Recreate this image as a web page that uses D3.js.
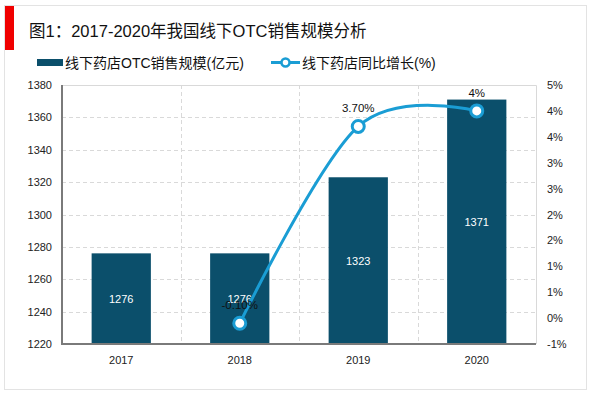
<!DOCTYPE html>
<html>
<head>
<meta charset="utf-8">
<script src="https://cdn.jsdelivr.net/npm/d3@7"></script>
<style>
    body { margin: 0; background: #fff; }
    svg text { font-family: "Liberation Sans", Arial, "Noto Sans CJK SC", sans-serif; }
</style>
</head>
<body>
<svg id="chart" width="600" height="393"></svg>
<script>
"use strict"

var years           = ['2017', '2018', '2019', '2020'];
var sales           = [1276, 1276, 1323, 1371];
var growthYears     = ['2018', '2019', '2020'];
var growth          = [-0.1, 3.7, 4.0];
var growthLabels    = ['-0.10%', '3.70%', '4%'];
var leftTicks       = [1220, 1240, 1260, 1280, 1300, 1320, 1340, 1360, 1380];
var rightTicks      = [-0.5, 0, 0.5, 1, 1.5, 2, 2.5, 3, 3.5, 4, 4.5];
var rightTickLabels = ['-1%', '0%', '1%', '1%', '2%', '2%', '3%', '3%', '4%', '4%', '5%'];

var titleText   = '图1：2017-2020年我国线下OTC销售规模分析';
var legendBar   = '线下药店OTC销售规模(亿元)';
var legendLine  = '线下药店同比增长(%)';

var barColor  = '#0b4f6b';
var lineColor = '#1a9dd4';
var gridColor = '#d9d9d9';

var svg = d3.select('#chart');

// frame + title
svg.append('rect')
    .attr('x', 4.5).attr('y', 5.5)
    .attr('width', 582).attr('height', 384)
    .attr('fill', '#fff')
    .attr('stroke', '#e3e3e3');
svg.append('rect')
    .attr('x', 5).attr('y', 6)
    .attr('width', 9).attr('height', 44)
    .attr('fill', '#f00000');
svg.append('text')
    .attr('x', 29).attr('y', 37)
    .attr('font-size', '16.5px')
    .style('fill', '#111')
    .text(titleText);

// legend
svg.append('rect')
    .attr('x', 37).attr('y', 59)
    .attr('width', 26).attr('height', 7)
    .attr('fill', barColor);
svg.append('text')
    .attr('x', 65).attr('y', 67.5)
    .attr('font-size', '14px')
    .style('fill', '#111')
    .text(legendBar);
svg.append('line')
    .attr('x1', 271).attr('x2', 300)
    .attr('y1', 62.5).attr('y2', 62.5)
    .attr('stroke', lineColor).attr('stroke-width', 3);
svg.append('circle')
    .attr('cx', 285.5).attr('cy', 62.5).attr('r', 4)
    .attr('fill', '#fff')
    .attr('stroke', lineColor).attr('stroke-width', 2.5);
svg.append('text')
    .attr('x', 302).attr('y', 67.5)
    .attr('font-size', '14px')
    .style('fill', '#111')
    .text(legendLine);

// plot area
var plotLeft = 62, plotRight = 536, plotTop = 85, plotBottom = 344;

var x = d3.scaleBand()
    .domain(years)
    .range([plotLeft, plotRight])
    .paddingInner(0.5)
    .paddingOuter(0.25);
var yL = d3.scaleLinear().domain([1220, 1380]).range([plotBottom, plotTop]);
var yR = d3.scaleLinear().domain([-0.5, 4.5]).range([plotBottom, plotTop]);

// horizontal dashed grid
svg.append('g')
    .selectAll('line').data(leftTicks.slice(1, -1))
    .enter().append('line')
    .attr('x1', plotLeft).attr('x2', plotRight)
    .attr('y1', d => Math.round(yL(d)) + 0.5)
    .attr('y2', d => Math.round(yL(d)) + 0.5)
    .attr('stroke', gridColor)
    .attr('stroke-dasharray', '4,3');

// vertical dashed grid between categories
var boundary = d => Math.round(x(d) - x.step() * x.paddingInner() / 2) + 0.5;
svg.append('g')
    .selectAll('line').data(years.slice(1))
    .enter().append('line')
    .attr('x1', boundary)
    .attr('x2', boundary)
    .attr('y1', plotTop).attr('y2', plotBottom)
    .attr('stroke', gridColor)
    .attr('stroke-dasharray', '4,3');

// top and right border
svg.append('path')
    .attr('d', 'M' + plotLeft + ',' + (plotTop + 0.5) + 'H' + (plotRight + 0.5) + 'V' + plotBottom)
    .attr('fill', 'none')
    .attr('stroke', gridColor);

// bars
svg.append('g')
    .selectAll('rect').data(years)
    .enter().append('rect')
    .attr('x', d => x(d))
    .attr('y', (d, i) => yL(sales[i]))
    .attr('width', x.bandwidth())
    .attr('height', (d, i) => plotBottom - yL(sales[i]))
    .attr('fill', barColor);

svg.append('g')
    .selectAll('text').data(years)
    .enter().append('text')
    .attr('x', d => x(d) + x.bandwidth() / 2)
    .attr('y', (d, i) => (yL(sales[i]) + plotBottom) / 2 + 4)
    .attr('text-anchor', 'middle')
    .attr('font-size', '11px')
    .style('fill', '#fff')
    .text((d, i) => sales[i]);

// axes
var axisL = d3.axisLeft(yL).tickValues(leftTicks).tickSize(0).tickPadding(10)
    .tickFormat(d3.format('d'));
var gL = svg.append('g').attr('transform', 'translate(' + plotLeft + ',0)').call(axisL);
gL.select('.domain').remove();
gL.selectAll('text').attr('font-size', '11px').style('fill', '#222');

var axisR = d3.axisRight(yR).tickValues(rightTicks).tickSize(0).tickPadding(11)
    .tickFormat((d, i) => rightTickLabels[i]);
var gR = svg.append('g').attr('transform', 'translate(' + plotRight + ',0)').call(axisR);
gR.select('.domain').remove();
gR.selectAll('text').attr('font-size', '11px').style('fill', '#222');

var axisB = d3.axisBottom(x).tickSize(0).tickPadding(12);
var gB = svg.append('g').attr('transform', 'translate(0,' + plotBottom + ')').call(axisB);
gB.select('.domain').remove();
gB.selectAll('text').attr('font-size', '11px').style('fill', '#222');

svg.append('path')
    .attr('d', 'M' + plotLeft + ',' + plotTop + 'V' + plotBottom + 'H' + plotRight)
    .attr('fill', 'none')
    .attr('stroke', '#7a7a7a')
    .attr('stroke-width', 2);

// growth line
var cx = d => x(d) + x.bandwidth() / 2;
var line = d3.line()
    .x(d => cx(d))
    .y((d, i) => yR(growth[i]))
    .curve(d3.curveCardinal.tension(0));

svg.append('path')
    .datum(growthYears)
    .attr('d', line)
    .attr('fill', 'none')
    .attr('stroke', lineColor)
    .attr('stroke-width', 3);

svg.append('g')
    .selectAll('circle').data(growthYears)
    .enter().append('circle')
    .attr('cx', d => cx(d))
    .attr('cy', (d, i) => yR(growth[i]))
    .attr('r', 6)
    .attr('fill', '#fff')
    .attr('stroke', lineColor)
    .attr('stroke-width', 3);

svg.append('g')
    .selectAll('text').data(growthYears)
    .enter().append('text')
    .attr('x', d => cx(d))
    .attr('y', (d, i) => yR(growth[i]) - 14)
    .attr('text-anchor', 'middle')
    .attr('font-size', '11.5px')
    .style('fill', '#111')
    .text((d, i) => growthLabels[i]);
</script>
</body>
</html>
